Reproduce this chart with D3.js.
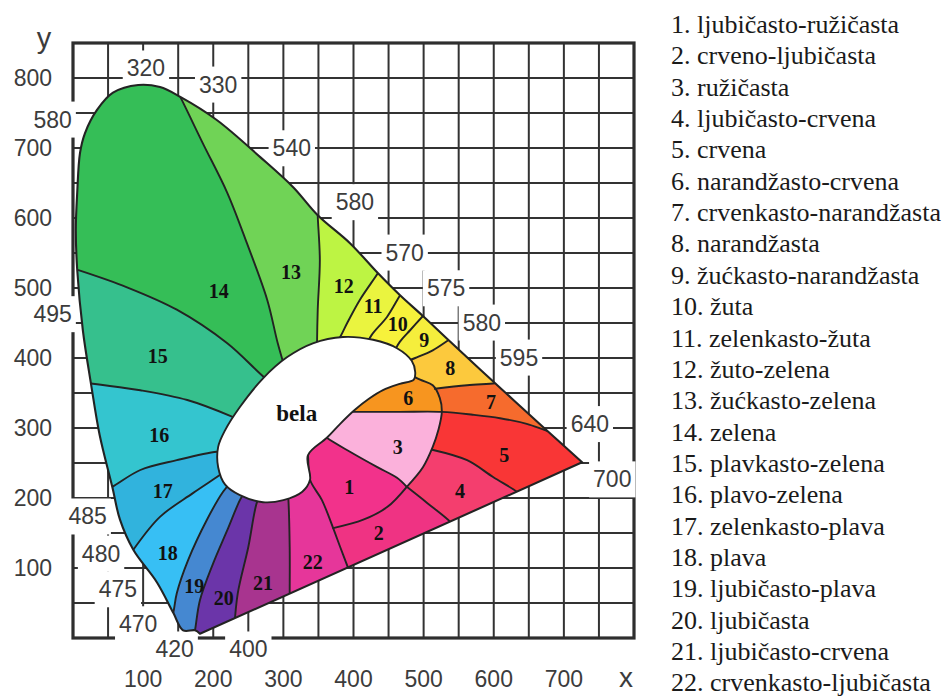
<!DOCTYPE html>
<html>
<head>
<meta charset="utf-8">
<script src="https://d3js.org/d3.v7.min.js"></script>
<style>
html,body{margin:0;padding:0;background:#fff;}
svg{display:block;}
</style>
</head>
<body>
<svg id="chart" width="946" height="698"></svg>
<script>
// ---------------- DATA (chromaticity x,y ×1000) ----------------
const xTicks = [100,200,300,400,500,600,700];
const yTicks = [100,200,300,400,500,600,700,800];

// spectral locus (open curve; closed by the straight purple line)
const locus = [[181,6],[174,11],[157,11],[143,36],[120,79],[86,126],[67,169],[56,216],[38,290],[26,361],[14,440],[6,526],[4,583],[6,636],[10,693],[17,721],[34,754],[57,779],[93,790],[124,787],[153,773],[205,740],[267,687],[314,644],[349,604],[395,564],[435,521],[466,490],[499,460],[535,426],[602,364],[673,299],[726,251]];

// white region "bela"
const blob = [[335,261],[338,226],[327,209],[300,197],[271,194],[238,204],[217,219],[207,244],[207,273],[217,297],[238,330],[271,371],[305,401],[342,421],[385,430],[428,426],[462,414],[483,396],[488,380],[486,369],[466,363],[442,354],[421,341],[402,326],[381,306],[362,286]];

// region boundaries
const d13_14 = [[305,376],[292,421],[277,483],[248,564],[220,636],[185,707],[153,773],[144,790]];
const d12_13 = [[348,404],[348,421],[349,469],[352,540],[349,604],[349,621]];
const d11_12 = [[369,411],[381,430],[391,450],[409,483],[434,520],[444,536]];
const d10_11 = [[416,414],[426,433],[448,459],[466,489],[475,503]];
const d9_10  = [[455,403],[466,423],[481,440],[499,460],[509,471]];
const d8_9   = [[473,394],[488,400],[513,411],[536,426],[548,434]];
const d7_8   = [[516,356],[562,361],[602,364],[616,366]];
const dL6_5  = [[388,323],[409,323],[466,323],[526,323],[570,319],[609,314],[647,306],[673,297],[694,290]];
const c36R   = [[473,381],[495,369],[513,361],[523,343],[526,324],[521,297],[513,273],[499,244],[476,216]];
const d5_4   = [[512,269],[562,254],[599,230],[633,209],[642,201]];
const d4_2   = [[476,216],[505,193],[538,166],[545,157]];
const d1_3   = [[349,297],[362,286],[395,266],[434,244],[462,229],[476,216]];
const d1_2   = [[476,216],[448,187],[414,169],[371,157]];
const d22    = [[331,283],[335,261],[338,226],[355,197],[371,157],[381,130],[392,101],[398,86]];
const d21_22 = [[305,219],[307,200],[309,130],[309,64],[309,50]];
const d20_21 = [[270,211],[262,193],[250,130],[235,64],[230,14]];
const d19_20 = [[248,214],[238,197],[220,154],[200,107],[181,54],[174,11],[171,-3]];
const d18_19 = [[224,221],[214,209],[191,169],[164,111],[148,64],[143,36],[138,20]];
const d17_18 = [[227,246],[214,236],[171,207],[124,173],[86,126],[76,110]];
const d16_17 = [[224,266],[205,266],[148,254],[96,240],[56,216],[41,209]];
const d15_16 = [[242,309],[225,317],[163,340],[96,354],[24,364],[10,367]];
const d14_15 = [[288,361],[272,373],[220,421],[148,469],[77,501],[6,526],[-7,530]];

const regionColors = ["#f2328b","#ef3383","#fbb1db","#f43e6e","#f93636","#f7951f","#f66b2d","#fcc93d","#f5ee3c","#f7f23b","#eaf43f","#bdf443","#70d356","#35be57","#36c08d","#34c5cf","#31b3dd","#37bff4","#4588d1","#6b35a9","#a8348f","#e6369a"];
const regionLabelPos = [[394,216],[436,150],[463,273],[552,210],[615,261],[478,343],[596,337],[538,386],[501,426],[463,449],[428,474],[386,503],[311,523],[208,496],[121,403],[123,290],[128,210],[135,121],[173,74],[215,57],[271,79],[342,109]];
const whiteLabel = ["bela", 319, 321];

const wavelengthLabels = [["320",104,814],["330",207,791],["580",-29,741],["540",312,700],["580",402,623],["570",473,551],["575",532,500],["580",583,451],["595",636,401],["640",737,306],["700",769,227],["495",-29,463],["485",21,174],["480",40,121],["475",64,70],["470",93,20],["420",145,-16],["400",250,-16]];

const legendLabels = ["ljubičasto-ružičasta","crveno-ljubičasta","ružičasta","ljubičasto-crvena","crvena","narandžasto-crvena","crvenkasto-narandžasta","narandžasta","žućkasto-narandžasta","žuta","zelenkasto-žuta","žuto-zelena","žućkasto-zelena","zelena","plavkasto-zelena","plavo-zelena","zelenkasto-plava","plava","ljubičasto-plava","ljubičasta","ljubičasto-crvena","crvenkasto-ljubičasta"];

// ---------------- CHART ----------------
const svg = d3.select("#chart");
const x = d3.scaleLinear().domain([0,800]).range([73,634]);
const y = d3.scaleLinear().domain([0,850]).range([638,43]);
const curveLine = d3.line().x(d=>x(d[0])).y(d=>y(d[1])).curve(d3.curveCatmullRom.alpha(0.5));
const closedLine = d3.line().x(d=>x(d[0])).y(d=>y(d[1])).curve(d3.curveCatmullRomClosed.alpha(0.5));
const pxLine = d3.line();
const LINE = "#232323";
const SANS = "'Liberation Sans', Arial, Helvetica, sans-serif";
const SERIF = "'Liberation Serif', 'Times New Roman', serif";

// grid
const grid = svg.append("g");
grid.selectAll("line.gx").data(d3.range(0,801,50)).join("line")
  .attr("x1",d=>x(d)).attr("x2",d=>x(d)).attr("y1",y(0)).attr("y2",y(850))
  .attr("stroke","#333").attr("stroke-width",2);
grid.selectAll("line.gy").data(d3.range(0,851,50)).join("line")
  .attr("y1",d=>y(d)).attr("y2",d=>y(d)).attr("x1",x(0)).attr("x2",x(800))
  .attr("stroke","#333").attr("stroke-width",2);
grid.append("rect").attr("x",x(0)).attr("y",y(850)).attr("width",x(800)-x(0)).attr("height",y(0)-y(850))
  .attr("fill","none").attr("stroke","#2e2e2e").attr("stroke-width",3.2);

const boxG = svg.append("g");

// defs / clips
const defs = svg.append("defs");
const locusPath = curveLine(locus) + "Z";
defs.append("clipPath").attr("id","locusClip").append("path").attr("d",locusPath);

// sampler
const tmp = svg.append("path").attr("fill","none").attr("stroke","none");
function sample(arr){
  tmp.attr("d", curveLine(arr));
  const n = tmp.node(), L = n.getTotalLength();
  const steps = Math.max(2, Math.ceil(L/1.5)), out = [];
  for (let i=0;i<=steps;i++){ const p = n.getPointAtLength(L*i/steps); out.push([p.x,p.y]); }
  return out;
}
const divs = {d13_14,d12_13,d11_12,d10_11,d9_10,d8_9,d7_8,dL6_5,c36R,d5_4,d4_2,d1_3,d1_2,d22,d21_22,d20_21,d19_20,d18_19,d17_18,d16_17,d15_16,d14_15};
const S = {};
Object.keys(divs).forEach(k => S[k] = sample(divs[k]));
tmp.remove();

function poly(parts){
  const pts = [];
  parts.forEach(p => {
    if (typeof p[0] === "string") {
      const s = p[1] > 0 ? S[p[0]] : S[p[0]].slice().reverse();
      pts.push(...s);
    } else {
      p.forEach(q => pts.push([x(q[0]), y(q[1])]));
    }
  });
  return pxLine(pts) + "Z";
}

// fill order (painter)
const regionShapes = [
  [14, [["d13_14",1],[[110,833],[-19,833],[-26,530]],["d14_15",-1]]],
  [13, [["d12_13",1],[[374,633],[181,809]],["d13_14",-1]]],
  [12, [["d11_12",1],[[455,547],[374,633]],["d12_13",-1]]],
  [11, [["d10_11",1],[[486,514],[455,547]],["d11_12",-1]]],
  [10, [["d9_10",1],[[520,483],[486,514]],["d10_11",-1]]],
  [9,  [["d8_9",1],[[559,447],[520,483]],["d9_10",-1]]],
  [15, [["d14_15",1],[[-19,526],[-7,364]],["d15_16",-1]]],
  [16, [["d15_16",1],[[-4,361],[21,200]],["d16_17",-1]]],
  [17, [["d16_17",1],[[24,197],[56,100]],["d17_18",-1]]],
  [18, [["d17_18",1],[[53,90],[110,4]],["d18_19",-1]]],
  [19, [["d18_19",1],[[141,-3]],["d19_20",-1]]],
  [20, [["d19_20",1],[[181,-10],[234,9]],["d20_21",-1]]],
  [21, [["d20_21",1],[[238,9],[318,43]],["d21_22",-1]]],
  [8,  [["d7_8",1],[[630,380],[559,447]],["d8_9",-1],[[488,361],[502,353]]]],
  [7,  [["d7_8",1],[[630,380],[702,304]],["dL6_5",-1]]],
  [5,  [["dL6_5",1],[[752,261],[652,190]],["d5_4",-1],[[502,273]]]],
  [4,  [["d5_4",1],[[652,190],[552,147]],["d4_2",-1],[[488,240]]]],
  [2,  [["d4_2",1],[[552,147],[402,76]],["d22",-1]]],
  [1,  [["d1_3",1],["d1_2",1],[[355,153],[324,240]]]],
  [22, [["d21_22",1],[[317,40],[409,80]],["d22",-1]]],
  [3,  [["c36R",1],["d1_3",-1],[[409,369]]]]
];
const eggParts = [["c36R",1],["d1_3",-1],[[409,369]]];

// clip above L6 (for region 6)
defs.append("clipPath").attr("id","aboveL6").append("path")
  .attr("d", pxLine(S.dL6_5.concat([[x(700),y(650)],[x(350),y(650)]])) + "Z");

const fillG = svg.append("g").attr("clip-path","url(#locusClip)");
regionShapes.forEach(([n,parts]) => {
  fillG.append("path").attr("d", poly(parts)).attr("fill", regionColors[n-1]);
});
fillG.append("path").attr("d", poly(eggParts)).attr("fill", regionColors[5]).attr("clip-path","url(#aboveL6)");

// boundaries
fillG.selectAll("path.div").data(Object.values(divs)).join("path")
  .attr("class","div").attr("d", d=>curveLine(d))
  .attr("fill","none").attr("stroke",LINE).attr("stroke-width",1.9).attr("stroke-linecap","round").attr("stroke-linejoin","round");

// white region
svg.append("path").attr("d", closedLine(blob)+"Z").attr("fill","#fff").attr("stroke",LINE).attr("stroke-width",1.9);
// locus outline
svg.append("path").attr("d", locusPath).attr("fill","none").attr("stroke",LINE).attr("stroke-width",2.1).attr("stroke-linejoin","round");

// region numbers
svg.append("g").selectAll("text").data(regionLabelPos).join("text")
  .attr("x",d=>x(d[0])).attr("y",d=>y(d[1])).attr("dy","0.35em")
  .attr("text-anchor","middle").attr("font-family",SERIF).attr("font-weight","bold")
  .attr("font-size",20).attr("fill","#111").text((d,i)=>i+1);
svg.append("text").attr("x",x(whiteLabel[1])).attr("y",y(whiteLabel[2])).attr("dy","0.35em")
  .attr("text-anchor","middle").attr("font-family",SERIF).attr("font-weight","bold")
  .attr("font-size",23).attr("fill","#111").text(whiteLabel[0]);

// wavelength labels with white boxes
const wlG = svg.append("g");
wavelengthLabels.forEach(([t,vx,vy]) => {
  const tx = wlG.append("text").attr("x",x(vx)).attr("y",y(vy)).attr("dy","0.36em")
    .attr("text-anchor","middle").attr("font-family",SANS).attr("font-size",23).attr("fill","#3c3c3c").text(t);
  const b = tx.node().getBBox();
  boxG.append("rect").attr("x",b.x-4).attr("y",b.y-5).attr("width",b.width+8).attr("height",b.height+10).attr("fill","#fff");
});

// axis tick labels
svg.append("g").selectAll("text").data(yTicks).join("text")
  .attr("x", x(0)-21).attr("y", d=>y(d)).attr("dy","0.36em").attr("text-anchor","end")
  .attr("font-family",SANS).attr("font-size",23).attr("fill","#3c3c3c").text(d=>d);
svg.append("g").selectAll("text").data(xTicks).join("text")
  .attr("x", d=>x(d)).attr("y", y(0)+49).attr("text-anchor","middle")
  .attr("font-family",SANS).attr("font-size",23).attr("fill","#3c3c3c").text(d=>d);
svg.append("text").attr("x",44).attr("y",y(850)+5).attr("text-anchor","middle")
  .attr("font-family",SANS).attr("font-size",29).attr("fill","#3c3c3c").text("y");
svg.append("text").attr("x",626).attr("y",y(0)+49).attr("text-anchor","middle")
  .attr("font-family",SANS).attr("font-size",28).attr("fill","#3c3c3c").text("x");

// legend
svg.append("g").selectAll("text").data(legendLabels).join("text")
  .attr("x",671).attr("y",(d,i)=>33+i*31.35)
  .attr("font-family",SERIF).attr("font-size",26).attr("fill","#1a1a1a")
  .text((d,i)=>`${i+1}. ${d}`);
</script>
</body>
</html>
